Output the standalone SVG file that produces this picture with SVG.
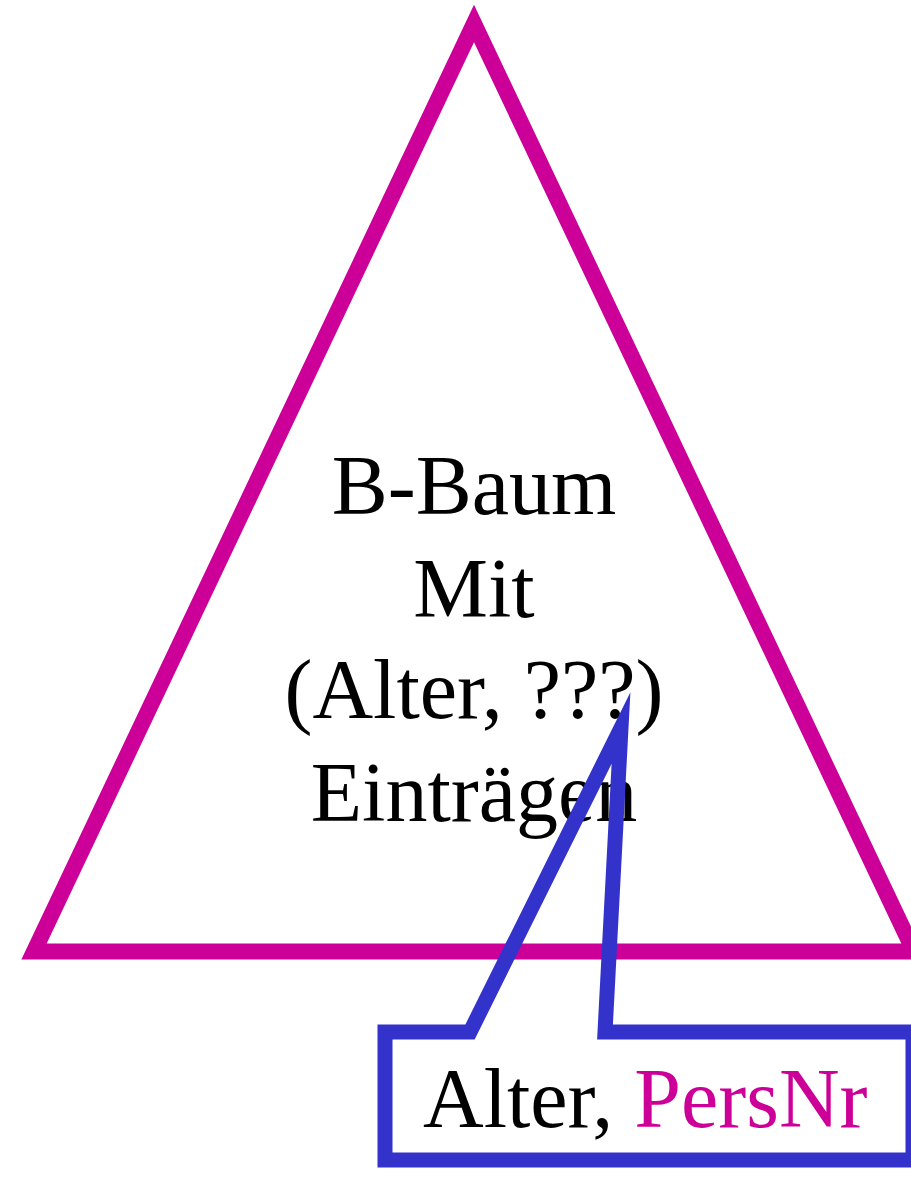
<svg xmlns="http://www.w3.org/2000/svg" width="911" height="1180" viewBox="0 0 911 1180">
<style>
.t{font-family:"Liberation Serif","Times New Roman",serif;font-size:84px;fill:#000}
.m{fill:#CC0099}
</style>
<rect width="911" height="1180" fill="#fff"/>
<g id="tree">
<path d="M474,23.5 L34,951.5 L914,951.5 Z" fill="none" stroke="#CC0099" stroke-width="16" stroke-miterlimit="10"/>
<text class="t" text-anchor="middle" x="474" y="514">B-Baum</text>
<text class="t" text-anchor="middle" x="474" y="617">Mit</text>
<text class="t" text-anchor="middle" x="474" y="718">(Alter, ???)</text>
<text class="t" text-anchor="middle" x="474" y="821">Einträgen</text>
</g>
<g id="callout">
<path d="M385,1032 L470,1032 L621,728 L605,1032 L913,1032 L913,1160 L385,1160 Z" fill="none" stroke="#3333CC" stroke-width="15" stroke-miterlimit="10"/>
<text class="t" x="423" y="1127">Alter, <tspan class="m">PersNr</tspan></text>
</g>
</svg>
